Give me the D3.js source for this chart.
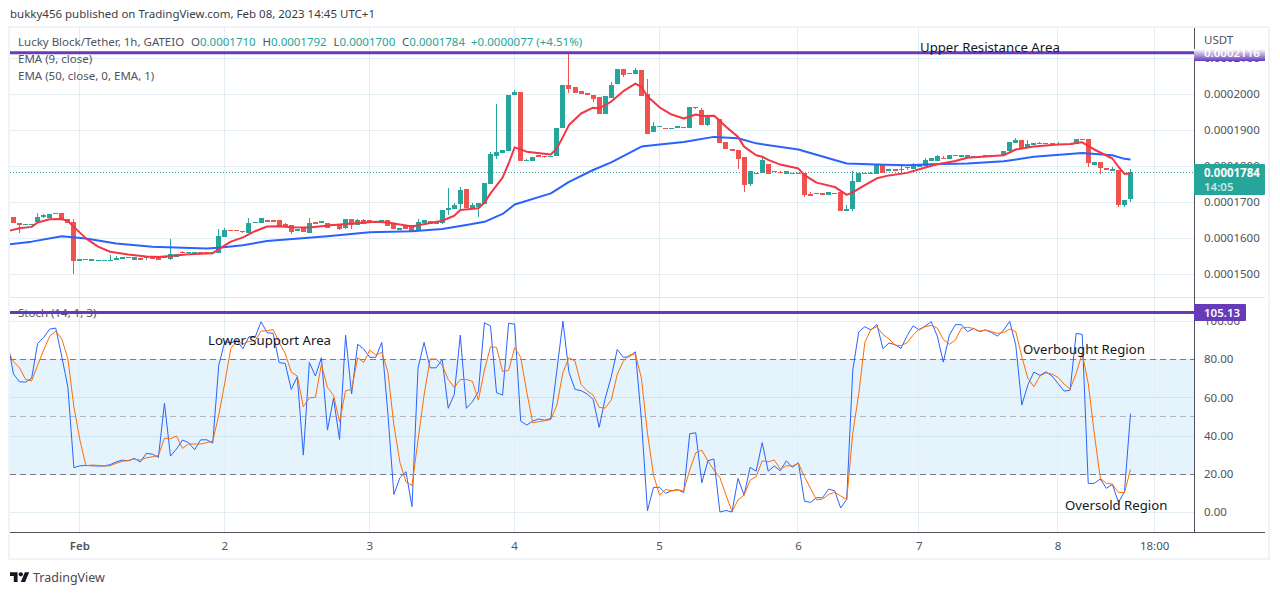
<!DOCTYPE html>
<html>
<head>
<meta charset="utf-8">
<script src="https://cdn.jsdelivr.net/npm/d3@7"></script>
<style>
  html, body { margin: 0; padding: 0; background: #fff; }
  svg { display: block; }
  text { font-family: "Noto Sans", sans-serif; }
</style>
</head>
<body>
<svg id="chart" width="1280" height="595"></svg>
<script>
// prices are in units of 0.0000001 USDT
let opens = [
  1659,1642,1639,1640,1645,1660,1657,1669,1670,1653,
  1646,1538,1541,1538,1539,1539,1539,1541,1543,1546,
  1540,1546,1546,1550,1549,1549,1544,1549,1562,1561,
  1561,1562,1562,1561,1560,1605,1623,1623,1620,1616,
  1645,1644,1652,1651,1650,1639,1636,1621,1630,1616,
  1645,1642,1644,1640,1636,1629,1653,1636,1650,1650,
  1646,1645,1652,1644,1624,1634,1636,1620,1642,1648,
  1640,1644,1679,1681,1695,1737,1683,1688,1696,1751,
  1829,1838,1843,1999,2006,1817,1816,1831,1830,1828,
  1829,1907,2026,2020,2009,2004,1999,1994,1945,1989,
  2029,2070,2056,2056,2069,2000,1896,1910,1908,1907,
  1906,1909,1906,1963,1958,1914,1938,1931,1868,1848,
  1845,1826,1751,1782,1783,1806,1786,1784,1780,1782,
  1778,1781,1724,1725,1726,1721,1725,1729,1677,1681,
  1757,1780,1781,1780,1804,1787,1792,1792,1796,1792,
  1799,1802,1816,1816,1823,1821,1830,1826,1827,1828,
  1828,1828,1829,1830,1831,1844,1865,1872,1853,1859,
  1862,1862,1864,1861,1862,1861,1863,1875,1875,1805,
  1812,1795,1787,1790,1692,1710];
let closes = [
  1643,1638,1640,1641,1659,1665,1668,1670,1653,1644,
  1538,1543,1542,1542,1540,1540,1540,1545,1548,1547,
  1547,1541,1547,1544,1540,1548,1556,1558,1561,1562,
  1562,1561,1561,1562,1606,1623,1620,1620,1617,1644,
  1646,1656,1646,1646,1632,1635,1618,1627,1618,1644,
  1641,1647,1630,1637,1626,1655,1637,1651,1641,1643,
  1647,1650,1635,1625,1630,1627,1618,1645,1651,1640,
  1645,1679,1684,1692,1734,1685,1693,1699,1754,1834,
  1839,1845,1998,2006,1816,1818,1827,1826,1828,1829,
  1907,2026,2015,2005,2002,1999,1987,1945,1995,2026,
  2071,2053,2060,2069,1996,1891,1912,1911,1905,1908,
  1911,1908,1965,1964,1915,1937,1940,1865,1848,1843,
  1820,1748,1787,1781,1818,1780,1787,1781,1786,1778,
  1782,1720,1719,1723,1721,1728,1726,1677,1683,1759,
  1782,1782,1783,1804,1783,1792,1787,1794,1799,1806,
  1804,1818,1822,1829,1821,1831,1833,1833,1831,1830,
  1830,1832,1832,1831,1844,1868,1872,1849,1862,1866,
  1866,1865,1860,1863,1860,1860,1875,1872,1810,1812,
  1795,1791,1793,1692,1706,1784];
let highs = [
  1659,1642,1640,1641,1670,1668,1668,1670,1670,1653,
  1653,1543,1542,1542,1540,1540,1553,1552,1548,1547,
  1547,1546,1547,1550,1549,1551,1598,1558,1565,1562,
  1562,1562,1562,1562,1625,1630,1623,1623,1620,1656,
  1646,1656,1652,1651,1650,1643,1636,1627,1630,1656,
  1645,1647,1644,1640,1636,1655,1653,1655,1653,1650,
  1646,1650,1652,1644,1630,1634,1636,1655,1651,1648,
  1649,1679,1740,1699,1742,1737,1699,1699,1754,1840,
  1973,1845,1998,2012,2006,1820,1827,1831,1830,1829,
  1907,2026,2111,2020,2009,2004,1999,1994,1995,2035,
  2071,2070,2060,2074,2069,2043,1923,1911,1908,1908,
  1911,1909,1965,1964,1963,1937,1940,1931,1868,1848,
  1845,1826,1787,1782,1825,1806,1787,1786,1786,1782,
  1782,1781,1729,1727,1726,1728,1726,1729,1692,1786,
  1782,1782,1785,1804,1806,1792,1792,1808,1799,1809,
  1804,1822,1822,1833,1830,1831,1833,1833,1831,1830,
  1830,1832,1832,1831,1844,1868,1878,1872,1872,1866,
  1869,1865,1864,1867,1862,1861,1875,1875,1875,1812,
  1812,1795,1799,1790,1706,1792];
let lows = [
  1643,1616,1639,1640,1645,1658,1657,1669,1653,1644,
  1501,1538,1541,1538,1539,1539,1539,1541,1543,1546,
  1540,1541,1540,1544,1540,1548,1540,1549,1561,1561,
  1561,1561,1561,1561,1560,1605,1620,1620,1615,1616,
  1645,1644,1646,1646,1632,1635,1612,1621,1618,1616,
  1641,1642,1630,1637,1624,1626,1625,1636,1641,1643,
  1646,1645,1635,1625,1624,1627,1618,1620,1642,1640,
  1640,1640,1664,1681,1683,1685,1683,1660,1696,1751,
  1821,1838,1843,1999,1816,1817,1816,1826,1822,1828,
  1829,1907,2005,2005,2002,1999,1980,1945,1945,1989,
  2029,2049,2056,2056,1996,1891,1896,1910,1905,1907,
  1906,1908,1906,1960,1915,1913,1938,1865,1848,1843,
  1793,1729,1745,1781,1783,1780,1786,1781,1780,1778,
  1778,1716,1719,1723,1721,1721,1725,1677,1677,1677,
  1757,1780,1781,1780,1783,1787,1787,1785,1790,1792,
  1799,1802,1816,1816,1821,1821,1830,1826,1827,1828,
  1828,1828,1829,1830,1831,1844,1865,1849,1853,1859,
  1862,1862,1860,1861,1860,1860,1863,1872,1798,1805,
  1780,1791,1787,1688,1688,1700];

// EMA vertices
let emaFastBars = [-1,1,3,4,6,8,9,10,12,14,16,19,22,24,26,29,33,34,36,38,40,42,44,46,49,
  53,55,60,62,66,69,71,73,74,77,78,79,81,82,83,85,89,90,91,92,94,96,97,99,101,103,104,105,107,
  109,111,113,114,116,117,118,120,121,123,124,125,127,130,131,133,136,138,139,141,143,145,148,151,153,156,158,
  164,166,169,173,175,177,178,179,182,183,184,185];
let emaFastValues = [1620,1628,1632,1644,1653,1654,1648,1632,1600,1577,1563,1555,1550,1548,1551,1556,1559,1570,1591,1603,1620,1633,1634,1631,1630,
  1637,1640,1646,1644,1633,1643,1649,1663,1679,1684,1699,1725,1769,1808,1853,1841,1833,1850,1882,1915,1947,1963,1961,1980,2009,2030,2021,1994,1964,
  1944,1933,1944,1940,1941,1927,1910,1882,1855,1831,1827,1818,1805,1794,1776,1755,1743,1721,1728,1748,1767,1775,1782,1797,1806,1815,1824,
  1831,1847,1855,1861,1862,1867,1857,1847,1822,1799,1779,1781];
let emaSlowBars = [-1,3,8,12,17,23,32,34,38,42,52,59,66,71,75,78,81,83,89,92,96,99,104,107,111,116,120,123,130,138,143,148,152,158,164,169,177,182,184,185];
let emaSlowValues = [1583,1591,1606,1600,1586,1577,1572,1574,1581,1593,1606,1617,1620,1626,1637,1646,1668,1694,1725,1757,1790,1811,1855,1861,1868,1882,1878,1864,1847,1808,1805,1803,1806,1808,1814,1827,1837,1831,1821,1819];

// stochastic, first value belongs to the bar left of the first candle
let stochK = [90,
  72.4,68.4,68.2,70.2,88.5,91.6,96,96.5,81.5,65.8,
  23.4,24.4,24.6,24.4,24.3,24.3,25,26.4,27.4,27,
  28.3,26.4,30.9,30.5,28.8,57.1,29.5,33.2,37.9,36.5,
  32.8,38,38,36.3,77.1,89.4,88.8,89.9,85.7,92,
  91.6,99.8,94.1,93.7,78.4,78,64.4,71,30,78.5,
  71.4,81,43.1,59.7,38.2,92.8,62,88.1,85.5,81.2,
  81.2,89,51.8,9.4,18.2,21.3,3,75.7,89,75.7,
  75.7,80.1,54.5,61.8,92.8,54.5,57.9,63.2,99.3,97.6,
  62.7,61.4,99,98.6,47.8,45.7,47.8,48.9,48.2,49.2,
  74.5,100,73.3,64.4,63.7,62,59.2,44.5,59.7,71,
  85.3,81.2,81.5,84.1,48.3,0.9,13.1,13.1,10,11.3,
  12,10.3,41.2,41.7,15.5,27,28,0.2,1,0.2,
  17.8,9,23.6,21.6,36.5,21.6,24.3,21.8,27,23.6,
  26,5.9,5.2,7.7,7.7,12.2,11.3,2.3,6.8,74.5,
  94.6,97.2,95.5,98.4,85.7,88.7,87.8,85.9,92.5,97.7,
  95.5,97.6,99.8,92.3,78.7,92.8,98.3,98.3,94.6,96.3,
  94.6,95.5,94.1,92.3,95.5,100,87.6,56.2,66.7,73.5,
  71.7,73.6,71.4,67.5,63.5,64,93.7,93.2,15.2,15.2,
  17.5,12.6,14.7,5.2,10.8,51.7];
let stochD = [85,
  78.9,75.7,69.6,68.9,77.1,85,92.3,94.9,90.8,80.6,
  55.3,37.9,24.4,24.8,24.6,24.3,24.4,25.7,26.7,27.2,
  27.9,27.4,28.6,29.1,29.8,38.9,38.6,40,33.5,35.8,
  35.8,35.8,36.5,37.3,51,67.9,85.9,89.9,88.1,89.5,
  89.9,94.9,95.1,95.8,89,83.2,73.5,71.4,55.3,60,
  60.2,77.5,65.4,61.4,47.5,63.7,64.4,81,78.5,85,
  82.4,83.8,73.6,45.7,26.2,16,14.1,37.9,61.4,80.3,
  80.3,77.1,69.6,65.4,69.6,69.6,68.6,58.8,74.5,86.7,
  86.4,73.8,74.3,86.2,81.2,63.2,46.9,47.5,48,48.7,
  56.2,73.3,81,79.2,67,63.7,61.4,55,54.6,58.8,
  72.4,79.2,82.4,82.9,70.2,41.4,19.5,9.1,12,11.3,
  11.7,11.3,22.2,31.2,32.6,27,22.2,18.2,9.1,0.5,
  6.5,9.1,16.9,18.7,27,26.5,27.4,22.7,24.4,24.3,
  25.7,18.7,12.6,6.5,7,9.4,10.5,8.6,6.8,41.4,
  62.3,89,95.8,97.2,93.2,90.8,87.6,87.3,88.8,92.8,
  96,97.2,97.9,96.5,90.6,88,90.2,96.5,96.9,96.3,
  94.9,95.5,94.6,93.7,94.2,96,94.6,81.5,70.2,65.8,
  71.4,73.1,72.4,70.7,67.2,64.6,72.8,83.2,67.5,41.4,
  17.8,15.2,14.8,10.5,10.3,22.5];

let priceTicks = [1500,1600,1700,1800,1900,2000,2100];
let stochTicks = [0,20,40,60,80,100];
let timeBars = [11,35,59,83,107,130,150,173,189];
let timeLabels = ["Feb","2","3","4","5","6","7","8","18:00"];
let lastClose = 1784, resistance = 2116, stochLevel = 104.7;

const UP = "#26a69a", DOWN = "#ef5350", GRID = "#e3edf4", TXT = "#50535e", PURPLE = "#673ab7";
const left = 10, right = 1194, axisEnd = 1265, paneSplit = 297.5, axisY = 532.5;

let x = d3.scaleLinear().domain([0, 185]).range([13, 1130]);
let y = d3.scaleLinear().domain([1500, 2000]).range([274.4, 94.4]);
let ys = d3.scaleLinear().domain([0, 100]).range([512.4, 321.4]);

let svg = d3.select("#chart");
let snap = v => Math.round(v - 0.5) + 0.5;

let defs = svg.append("defs");
defs.append("clipPath").attr("id", "plot").append("rect")
  .attr("x", left).attr("y", 28).attr("width", right - left).attr("height", axisY - 28);
let grad = defs.append("linearGradient").attr("id", "fade").attr("x1", 0).attr("x2", 0).attr("y1", 0).attr("y2", 1);
grad.append("stop").attr("offset", "0%").attr("stop-color", "#fff");
grad.append("stop").attr("offset", "100%").attr("stop-color", PURPLE);

// outer frame
svg.append("rect").attr("x", 9).attr("y", 27).attr("width", 1260).attr("height", 532)
  .attr("fill", "#fff").attr("stroke", "#f0f3fa").attr("stroke-width", 2);

// stochastic band
svg.append("rect").attr("x", left).attr("width", right - left)
  .attr("y", ys(80)).attr("height", ys(20) - ys(80)).attr("fill", "#e5f3fd");

// grid
let grid = svg.append("g").attr("stroke", GRID).attr("shape-rendering", "crispEdges");
grid.selectAll(".v").data(timeBars).enter().append("line").attr("class", "v")
  .attr("x1", d => snap(x(d))).attr("x2", d => snap(x(d))).attr("y1", 28).attr("y2", axisY);
grid.selectAll(".h1").data(priceTicks).enter().append("line").attr("class", "h1")
  .attr("x1", left).attr("x2", right).attr("y1", d => snap(y(d))).attr("y2", d => snap(y(d)));
grid.selectAll(".h2").data(stochTicks).enter().append("line").attr("class", "h2")
  .attr("x1", left).attr("x2", right).attr("y1", d => snap(ys(d))).attr("y2", d => snap(ys(d)))
  .attr("stroke", d => (d == 40 || d == 60) ? "#cfe3f2" : GRID);

// pane divider
svg.append("line").attr("x1", left).attr("x2", axisEnd).attr("y1", paneSplit).attr("y2", paneSplit)
  .attr("stroke", "#e0e3eb");

// stochastic bounds
[[80, "#787b86"], [50, "#b2b5be"], [20, "#787b86"]].forEach(b => {
  svg.append("line").attr("x1", left).attr("x2", right)
    .attr("y1", snap(ys(b[0]))).attr("y2", snap(ys(b[0])))
    .attr("stroke", b[1]).attr("stroke-dasharray", "6 4").attr("shape-rendering", "crispEdges");
});

// last price line
svg.append("line").attr("x1", left).attr("x2", right)
  .attr("y1", snap(y(lastClose))).attr("y2", snap(y(lastClose)))
  .attr("stroke", UP).attr("stroke-dasharray", "1 2").attr("shape-rendering", "crispEdges");

// candles
let plot = svg.append("g").attr("clip-path", "url(#plot)");
let candles = plot.selectAll(".candle").data(d3.range(opens.length)).enter().append("g")
  .attr("class", "candle").attr("shape-rendering", "crispEdges")
  .attr("fill", i => closes[i] >= opens[i] ? UP : DOWN);
candles.append("rect")
  .attr("x", i => Math.round(x(i))).attr("width", 1)
  .attr("y", i => y(highs[i])).attr("height", i => Math.max(1, y(lows[i]) - y(highs[i])));
candles.append("rect")
  .attr("x", i => Math.round(x(i)) - 2).attr("width", 5)
  .attr("y", i => y(Math.max(opens[i], closes[i])))
  .attr("height", i => Math.max(1, Math.abs(y(opens[i]) - y(closes[i]))));

// lines
let drawLine = (bars, vals, scale, colour, w) => plot.append("path")
  .datum(d3.range(bars.length))
  .attr("fill", "none").attr("stroke", colour).attr("stroke-width", w).attr("stroke-linejoin", "round")
  .attr("d", d3.line().x(i => x(bars[i]) + 0.5).y(i => scale(vals[i])));
drawLine(emaSlowBars, emaSlowValues, y, "#2962ff", 2);
drawLine(emaFastBars, emaFastValues, y, "#f23645", 2);
let stochBars = d3.range(-1, 186);
drawLine(stochBars, stochK, ys, "#2962ff", 1);
drawLine(stochBars, stochD, ys, "#ff6d00", 1);

// axes
let priceAxis = d3.axisRight(y).tickValues(priceTicks).tickSize(0).tickPadding(10)
  .tickFormat(d => (d / 1e7).toFixed(7));
let stochAxis = d3.axisRight(ys).tickValues(stochTicks).tickSize(0).tickPadding(10)
  .tickFormat(d => d.toFixed(2));
let timeAxis = d3.axisBottom(x).tickValues(timeBars).tickSize(0).tickPadding(9)
  .tickFormat((d, i) => timeLabels[i]);
[[priceAxis, `translate(${right},0)`, "0.28em"], [stochAxis, `translate(${right},0)`, "0.28em"], [timeAxis, `translate(0,${axisY})`, "0.75em"]].forEach(a => {
  let g = svg.append("g").attr("transform", a[1]).call(a[0]);
  g.select(".domain").remove();
  g.selectAll("text").attr("fill", TXT).attr("font-size", 11.5).attr("dy", a[2])
    .attr("font-family", '"Noto Sans", sans-serif');
});
svg.selectAll("g.tick text").filter(function () { return this.textContent == "Feb"; })
  .attr("font-weight", 600);

svg.append("line").attr("x1", right + 0.5).attr("x2", right + 0.5).attr("y1", 28).attr("y2", axisY)
  .attr("stroke", TXT);
svg.append("line").attr("x1", left).attr("x2", axisEnd).attr("y1", axisY).attr("y2", axisY)
  .attr("stroke", TXT);

let label = (t, px, py, size, fill, weight) => {
  let el = svg.append("text").attr("x", px).attr("y", py).attr("font-size", size).attr("fill", fill).text(t);
  if (weight) el.attr("font-weight", weight);
  return el;
};

// header and legends, the stochastic one sits under its level line
label("bukky456 published on TradingView.com, Feb 08, 2023 14:45 UTC+1", 10, 18, 11.5, "#3a3d47");
let title = label("Lucky Block/Tether, 1h, GATEIO", 18, 46, 11.5, TXT);
[["O", "0.0001710"], ["H", "0.0001792"], ["L", "0.0001700"], ["C", "0.0001784"]].forEach(p => {
  title.append("tspan").attr("dx", 6.8).text(p[0]);
  title.append("tspan").attr("fill", UP).text(p[1]);
});
title.append("tspan").attr("dx", 6).attr("fill", UP).text("+0.0000077 (+4.51%)");
label("EMA (9, close)", 18, 63, 11.5, TXT);
label("EMA (50, close, 0, EMA, 1)", 18, 80, 11.5, TXT);
label("Stoch (14, 1, 3)", 18, 317, 11.5, TXT);

// drawn horizontal levels
[y(resistance), ys(stochLevel)].forEach(v => {
  svg.append("line").attr("x1", left).attr("x2", right).attr("y1", v).attr("y2", v)
    .attr("stroke", PURPLE).attr("stroke-width", 3);
});

// price badges
label("USDT", 1204, 44, 11.5, TXT);
svg.append("rect").attr("x", right).attr("y", 49).attr("width", axisEnd - right).attr("height", 12)
  .attr("fill", "url(#fade)");
label("0.0002116", 1204, 57, 11.5, "#fff", 600);
svg.append("rect").attr("x", right).attr("y", 164).attr("width", axisEnd - right).attr("height", 31)
  .attr("fill", UP).attr("rx", 1);
label("0.0001784", 1204, 177, 11.5, "#fff", 700);
label("14:05", 1204, 191, 11.5, "#c4e8e4", 600);
svg.append("rect").attr("x", right).attr("y", 304).attr("width", 52).attr("height", 17)
  .attr("fill", PURPLE).attr("rx", 1);
label("105.13", 1204, 317, 11.5, "#fff", 600);

// annotations
[["Upper Resistance Area", 920, 52], ["Lower Support Area", 208, 345], ["Overbought Region", 1023, 354], ["Oversold Region", 1065, 510]]
  .forEach(a => label(a[0], a[1], a[2], 13.2, "#131722").attr("font-family", '"DejaVu Sans", sans-serif'));

// footer logo
svg.append("path").attr("transform", "translate(10,570) scale(0.54)").attr("fill", "#131722")
  .attr("d", "M14 22H7V11H0V4h14v18zM28 22h-8l7.5-18h8L28 22z");
svg.append("circle").attr("cx", 10 + 20 * 0.54).attr("cy", 570 + 8 * 0.54).attr("r", 4 * 0.54).attr("fill", "#131722");
label("TradingView", 33, 582, 12.5, "#4a4a4a");
</script>
</body>
</html>
